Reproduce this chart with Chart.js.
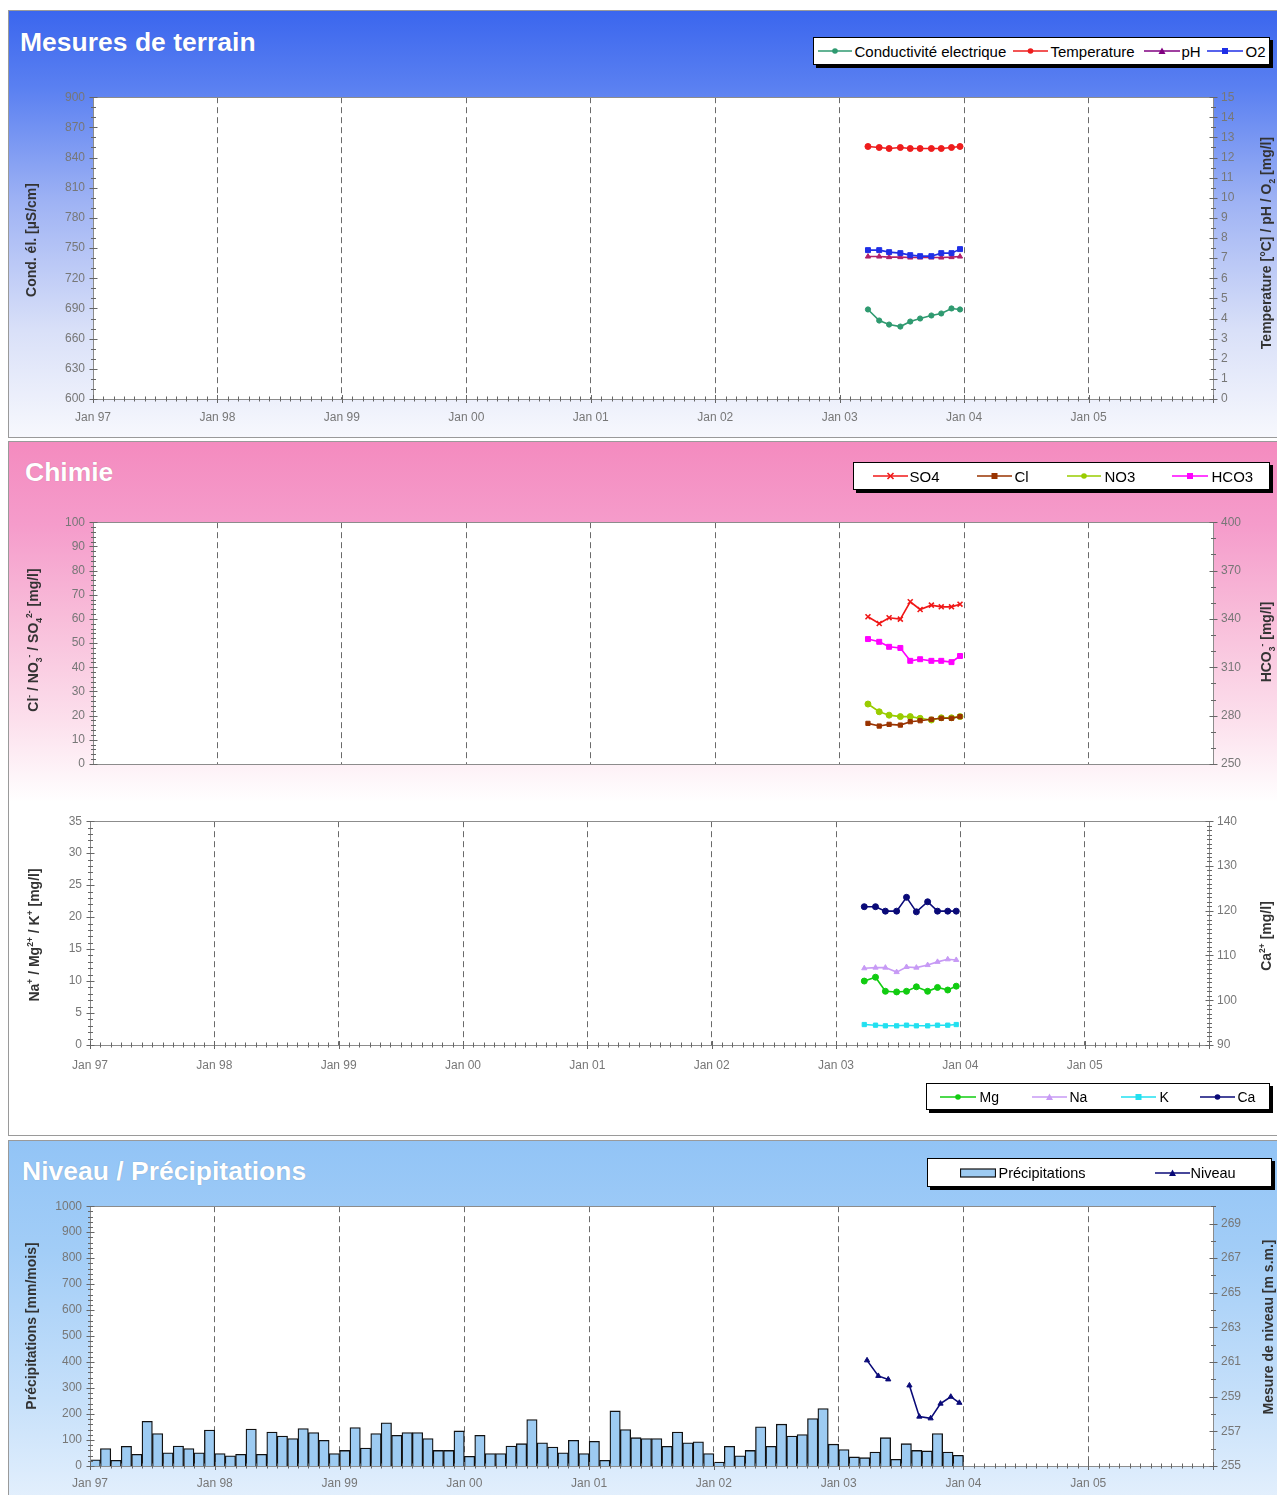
<!DOCTYPE html>
<html><head><meta charset="utf-8">
<script src="https://cdn.jsdelivr.net/npm/chart.js@4.4.1/dist/chart.umd.min.js"></script>
<style>
html,body{margin:0;padding:0;background:#fff;width:1277px;height:1495px;overflow:hidden;font-family:'Liberation Sans',Arial,sans-serif;}
.panel{position:absolute;left:8px;width:1290px;border:1px solid #9a9a9a;box-sizing:border-box;}
#p1{top:10px;height:428px;background:linear-gradient(to bottom,#3b66ee 0%,#5a80f1 18%,#9fb3f4 45%,#d9e0f8 75%,#f7f8fd 100%);}
#p2{top:441px;height:695px;background:linear-gradient(to bottom,#f48bbf 0%,#f59ccb 12%,#f8bcd9 25%,#fcdfec 40%,#fff 52%,#fff 100%);}
#p3{top:1140px;height:370px;background:linear-gradient(to bottom,#92c4f6 0%,#a2cdf7 30%,#c6e0fa 70%,#e6f1fd 100%);}
.title{position:absolute;color:#fff;font-weight:bold;font-size:26.5px;line-height:30px;white-space:nowrap;text-shadow:0 0 1px rgba(0,0,0,0.25);}
canvas{position:absolute;left:0;}
.legend{position:absolute;background:#fff;border:1.5px solid #000;box-shadow:3px 3px 0 #000;box-sizing:border-box;}
.li{position:absolute;top:0;height:100%;display:flex;align-items:center;color:#000;white-space:nowrap;}
.axt{position:absolute;font-weight:bold;font-size:14px;line-height:16px;color:#333;white-space:nowrap;transform:translate(-50%,-50%) rotate(-90deg);}
.axt sup,.axt sub{font-size:8.5px;line-height:0;}
</style></head>
<body>
<div class="panel" id="p1"></div>
<div class="panel" id="p2"></div>
<div class="panel" id="p3"></div>
<div class="title" style="left:20px;top:27px">Mesures de terrain</div>
<div class="title" style="left:25px;top:457px">Chimie</div>
<div class="title" style="left:22px;top:1156px">Niveau / Précipitations</div>

<canvas id="c1" width="1277" height="348" style="top:82px"></canvas>
<canvas id="c2" width="1277" height="273" style="top:507px"></canvas>
<canvas id="c3" width="1277" height="274" style="top:806px"></canvas>
<canvas id="c4" width="1277" height="304" style="top:1191px"></canvas>

<div class="axt" style="left:31px;top:240px">Cond. él. [µS/cm]</div>
<div class="axt" style="left:1266px;top:243px">Temperature [°C] / pH / O<sub>2</sub> [mg/l]</div>
<div class="axt" style="left:33px;top:640px">Cl<sup>-</sup> / NO<sub>3</sub><sup>-</sup> / SO<sub>4</sub><sup>2-</sup> [mg/l]</div>
<div class="axt" style="left:1266px;top:642px">HCO<sub>3</sub><sup>-</sup> [mg/l]</div>
<div class="axt" style="left:34px;top:935px">Na<sup>+</sup> / Mg<sup>2+</sup> / K<sup>+</sup> [mg/l]</div>
<div class="axt" style="left:1266px;top:936px">Ca<sup>2+</sup> [mg/l]</div>
<div class="axt" style="left:31px;top:1326px">Précipitations [mm/mois]</div>
<div class="axt" style="left:1268px;top:1327px">Mesure de niveau [m s.m.]</div>

<script>
// ---------------- DATA ----------------
const yearTicks = ['Jan 97','Jan 98','Jan 99','Jan 00','Jan 01','Jan 02','Jan 03','Jan 04','Jan 05'];
const sampleDates = ['2003-03-25','2003-04-27','2003-05-26','2003-06-28','2003-07-27','2003-08-25','2003-09-27','2003-10-26','2003-11-25','2003-12-20'];

const conductivite = [689, 678, 674, 672, 677, 680, 683, 685, 690, 689];
const temperature  = [12.55, 12.5, 12.45, 12.5, 12.45, 12.45, 12.45, 12.45, 12.5, 12.55];
const ph           = [7.08, 7.08, 7.05, 7.05, 7.03, 7.03, 7.03, 7.03, 7.05, 7.08];
const o2           = [7.4, 7.4, 7.3, 7.25, 7.15, 7.1, 7.1, 7.25, 7.25, 7.45];

const so4  = [60.9, 58.1, 60.5, 59.9, 67.1, 63.9, 65.7, 65.0, 65.0, 66.1];
const cl   = [16.8, 15.7, 16.4, 16.1, 17.5, 17.9, 18.5, 18.9, 18.9, 19.6];
const no3  = [24.8, 21.6, 20.2, 19.6, 19.6, 18.9, 18.2, 19.1, 19.1, 19.6];
const hco3 = [327.5, 325.8, 322.7, 322, 314, 315, 314, 314, 313.2, 317];

const mg = [10.0, 10.6, 8.4, 8.3, 8.4, 9.1, 8.4, 9.0, 8.6, 9.2];
const na = [12.0, 12.1, 12.1, 11.4, 12.2, 12.1, 12.5, 13.0, 13.4, 13.3];
const kk = [3.2, 3.1, 3.0, 3.0, 3.1, 3.0, 3.0, 3.1, 3.1, 3.2];
const ca = [120.9, 120.9, 119.9, 119.9, 123.0, 119.75, 122.0, 119.9, 119.9, 119.9];

const niveau = [261.1, 260.2, 260.0, null, 259.65, 257.85, 257.75, 258.6, 259.0, 258.65];

const precipStartYear = 1997;
const precip1997 = [24, 67, 22, 76, 45, 172, 125, 51, 77, 67, 51, 138];
const precip1998 = [48, 39, 45, 142, 45, 131, 115, 106, 144, 129, 99, 48];
const precip1999 = [60, 148, 69, 125, 166, 118, 129, 129, 106, 60, 60, 135];
const precip2000 = [37, 118, 48, 48, 77, 86, 179, 89, 73, 51, 99, 48];
const precip2001 = [95, 22, 212, 140, 109, 106, 106, 76, 131, 89, 93, 48];
const precip2002 = [15, 76, 39, 60, 151, 76, 161, 115, 121, 183, 221, 84];
const precip2003 = [63, 35, 32, 54, 109, 26, 86, 60, 58, 125, 54, 41];

// ---------------- HELPERS ----------------
function decYear(s){
  const d = new Date(s + 'T00:00:00Z');
  const y = d.getUTCFullYear();
  const start = Date.UTC(y,0,1), end = Date.UTC(y+1,0,1);
  return y + (d.getTime()-start)/(end-start);
}
const sampleX = sampleDates.map(decYear);
const pts = arr => sampleX.map((x,i)=>({x, y: arr[i]}));
const precipAll = [].concat(precip1997,precip1998,precip1999,precip2000,precip2001,precip2002,precip2003);
const precipPts = precipAll.map((v,i)=>({x: precipStartYear + (i+0.5)/12, y: v}));

Chart.defaults.font.family = "'Liberation Sans', Arial, sans-serif";
const TICKC = '#777';

const axisDeco = {
  id: 'axisDeco',
  beforeDraw(chart){
    const {ctx, chartArea:a} = chart;
    ctx.save(); ctx.fillStyle = '#fff';
    ctx.fillRect(a.left, a.top, a.right-a.left, a.bottom-a.top);
    ctx.restore();
  },
  afterDraw(chart, args, opts){
    const {ctx, chartArea:a} = chart;
    ctx.save();
    ctx.strokeStyle = '#8c8c8c'; ctx.lineWidth = 1;
    ctx.strokeRect(Math.round(a.left)+0.5, Math.round(a.top)+0.5, Math.round(a.right-a.left), Math.round(a.bottom-a.top));
    ctx.strokeStyle = '#666';
    (opts.ticks||[]).forEach(t=>{
      const s = chart.scales[t.id]; if(!s) return;
      const n = Math.round((s.max - s.min)/t.minor);
      for(let i=0;i<=n;i++){
        const v = s.min + i*t.minor;
        const q = (v - t.base)/t.major;
        const isMajor = Math.abs(q - Math.round(q)) < 1e-6;
        const len = isMajor ? 4 : 2.5;
        ctx.beginPath();
        if(s.isHorizontal()){
          const x = Math.round(s.getPixelForValue(v))+0.5;
          ctx.moveTo(x, a.bottom-len); ctx.lineTo(x, a.bottom+len);
        } else {
          const y = Math.round(s.getPixelForValue(v))+0.5;
          const ax = s.position==='left' ? Math.round(a.left)+0.5 : Math.round(a.right)+0.5;
          ctx.moveTo(ax-len, y); ctx.lineTo(ax+len, y);
        }
        ctx.stroke();
      }
    });
    ctx.restore();
  }
};

function xScale(h, showLabels, pad){
  return {
    type:'linear', min:1997, max:2006, offset:false,
    ticks:{stepSize:1, autoSkip:false, maxRotation:0, padding:pad, color:TICKC, font:{size:12}, display:showLabels,
      callback:(v)=>{ const i = Math.round(v-1997); return yearTicks[i] !== undefined ? yearTicks[i] : ''; }},
    grid:{offset:false, color:(c)=> (c.tick && (c.tick.value<=1997 || c.tick.value>=2006)) ? 'rgba(0,0,0,0)' : '#6a6a6a', lineWidth:1, drawTicks:false},
    border:{display:false, dash:[6,4]},
    afterFit:(s)=>{ s.height = h; }
  };
}
function yScale(pos, min, max, step, w){
  return {
    type:'linear', position:pos, min, max,
    ticks:{stepSize:step, padding:8, color:TICKC, font:{size:12}, callback:(v)=>String(v)},
    grid:{display:false, drawTicks:false},
    border:{display:false},
    afterFit:(s)=>{ s.width = w; }
  };
}
function lineDs(label, data, color, style, axis, extra){
  return Object.assign({type:'line', label, data, yAxisID:axis, borderColor:color, backgroundColor:color,
    borderWidth:1.6, pointRadius:3, pointStyle:style, pointBorderWidth:1, tension:0, spanGaps:false}, extra||{});
}
function baseOptions(padTop, scales, ticks){
  return {
    responsive:false, animation:false, events:[],
    layout:{padding:{top:padTop, left:0, right:0, bottom:0}},
    plugins:{legend:{display:false}, tooltip:{enabled:false}, axisDeco:{ticks}},
    scales
  };
}

// ---------------- CHART 1 ----------------
new Chart(document.getElementById('c1'), {
  type:'line',
  data:{datasets:[
    lineDs('Conductivité electrique', pts(conductivite), '#2f9a70', 'circle', 'y', {pointRadius:2.6}),
    lineDs('Temperature', pts(temperature), '#ee1c1c', 'circle', 'y1'),
    lineDs('O2', pts(o2), '#1f2fe6', 'rect', 'y1', {pointRadius:3.5}),
    lineDs('pH', pts(ph), '#b0206a', 'triangle', 'y1')
  ]},
  options: baseOptions(12, {
    x: xScale(31, true, 11),
    y: yScale('left', 600, 900, 30, 93),
    y1: yScale('right', 0, 15, 1, 64)
  }, [
    {id:'x', minor:1/12, major:1, base:1997},
    {id:'y', minor:10, major:30, base:600},
    {id:'y1', minor:0.5, major:1, base:0}
  ]),
  plugins:[axisDeco]
});

// ---------------- CHART 2 ----------------
new Chart(document.getElementById('c2'), {
  type:'line',
  data:{datasets:[
    lineDs('SO4', pts(so4), '#f01818', 'crossRot', 'y', {pointRadius:3.5, pointBorderWidth:1.6}),
    lineDs('Cl', pts(cl), '#993300', 'rect', 'y'),
    lineDs('NO3', pts(no3), '#99cc00', 'circle', 'y'),
    lineDs('HCO3', pts(hco3), '#ff00ff', 'rect', 'y1', {pointRadius:3.5})
  ]},
  options: baseOptions(12, {
    x: xScale(16, false, 4),
    y: yScale('left', 0, 100, 10, 93),
    y1: yScale('right', 250, 400, 30, 64)
  }, [
    {id:'y', minor:2, major:10, base:0},
    {id:'y1', minor:10, major:30, base:250}
  ]),
  plugins:[axisDeco]
});

// ---------------- CHART 3 ----------------
new Chart(document.getElementById('c3'), {
  type:'line',
  data:{datasets:[
    lineDs('Mg', pts(mg), '#11cc11', 'circle', 'y'),
    lineDs('Na', pts(na), '#c79af5', 'triangle', 'y'),
    lineDs('K', pts(kk), '#22e0f0', 'rect', 'y'),
    lineDs('Ca', pts(ca), '#0a0a78', 'circle', 'y1')
  ]},
  options: baseOptions(11, {
    x: xScale(35, true, 13),
    y: yScale('left', 0, 35, 5, 90),
    y1: yScale('right', 90, 140, 10, 68)
  }, [
    {id:'x', minor:1/12, major:1, base:1997},
    {id:'y', minor:1, major:5, base:0},
    {id:'y1', minor:1, major:10, base:90}
  ]),
  plugins:[axisDeco]
});

// ---------------- CHART 4 ----------------
const y1Niveau = yScale('right', 255, 270, 2, 64);
y1Niveau.afterBuildTicks = (s)=>{ const t=[]; for(let v=255; v<=269; v+=2) t.push({value:v}); s.ticks = t; };
new Chart(document.getElementById('c4'), {
  type:'bar',
  data:{datasets:[
    lineDs('Niveau', pts(niveau), '#0a0a78', 'triangle', 'y1', {order:0}),
    {type:'bar', label:'Précipitations', data:precipPts, yAxisID:'y', order:1,
     backgroundColor:'#9dcbf2', borderColor:'#111', borderWidth:1.3,
     barPercentage:1, categoryPercentage:1}
  ]},
  options: baseOptions(11, {
    x: xScale(29, true, 10),
    y: yScale('left', 0, 1000, 100, 90),
    y1: y1Niveau
  }, [
    {id:'x', minor:1/12, major:1, base:1997},
    {id:'y', minor:20, major:100, base:0},
    {id:'y1', minor:1, major:2, base:255}
  ]),
  plugins:[axisDeco]
});

// ---------------- LEGENDS ----------------
function sym(color, style, w){
  const h = 12, cy = 6, cx = w/2;
  let m = '';
  if(style==='circle') m = `<circle cx="${cx}" cy="${cy}" r="2.8" fill="${color}"/>`;
  else if(style==='rect') m = `<rect x="${cx-3}" y="${cy-3}" width="6" height="6" fill="${color}"/>`;
  else if(style==='triangle') m = `<polygon points="${cx},${cy-3.5} ${cx+3.5},${cy+3} ${cx-3.5},${cy+3}" fill="${color}"/>`;
  else if(style==='crossRot') m = `<path d="M${cx-3} ${cy-3}L${cx+3} ${cy+3}M${cx+3} ${cy-3}L${cx-3} ${cy+3}" stroke="${color}" stroke-width="1.6"/>`;
  if(style==='bar') return `<svg width="${w}" height="${h}"><rect x="0.5" y="2" width="${w-1}" height="8" fill="#9dcbf2" stroke="#111" stroke-width="1.2"/></svg>`;
  return `<svg width="${w}" height="${h}"><line x1="0" y1="${cy}" x2="${w}" y2="${cy}" stroke="${color}" stroke-width="1.5"/>${m}</svg>`;
}
const legendSpecs = [
  {box:[813,37,457,28], size:15, items:[
    ['s',818,'#2f9a70','circle',34], ['t',855,'Conductivité electrique'],
    ['s',1013,'#ee1c1c','circle',35], ['t',1051,'Temperature'],
    ['s',1144,'#800080','triangle',36], ['t',1182,'pH'],
    ['s',1207,'#1f2fe6','rect',36], ['t',1246,'O2']]},
  {box:[853,462,417,28], size:15, items:[
    ['s',873,'#f01818','crossRot',35], ['t',910,'SO4'],
    ['s',977,'#993300','rect',35], ['t',1015,'Cl'],
    ['s',1067,'#99cc00','circle',34], ['t',1105,'NO3'],
    ['s',1172,'#ff00ff','rect',36], ['t',1212,'HCO3']]},
  {box:[926,1083,344,27], size:14, items:[
    ['s',940,'#11cc11','circle',36], ['t',980,'Mg'],
    ['s',1032,'#c79af5','triangle',35], ['t',1070,'Na'],
    ['s',1121,'#22e0f0','rect',35], ['t',1160,'K'],
    ['s',1200,'#0a0a78','circle',35], ['t',1238,'Ca']]},
  {box:[927,1158,345,29], size:14.5, items:[
    ['s',960,'#000','bar',36], ['t',999,'Précipitations'],
    ['s',1155,'#0a0a78','triangle',35], ['t',1191,'Niveau']]}
];
legendSpecs.forEach(L=>{
  const [bx,by,bw,bh] = L.box;
  const box = document.createElement('div');
  box.className = 'legend';
  box.style.cssText = `left:${bx}px;top:${by}px;width:${bw}px;height:${bh}px;`;
  L.items.forEach(it=>{
    const el = document.createElement('div');
    el.className = 'li';
    el.style.left = (it[1]-bx-1.5)+'px';
    el.style.fontSize = L.size+'px';
    if(it[0]==='s') el.innerHTML = sym(it[2], it[3], it[4]);
    else el.textContent = it[2];
    box.appendChild(el);
  });
  document.body.appendChild(box);
});
</script>
</body></html>
